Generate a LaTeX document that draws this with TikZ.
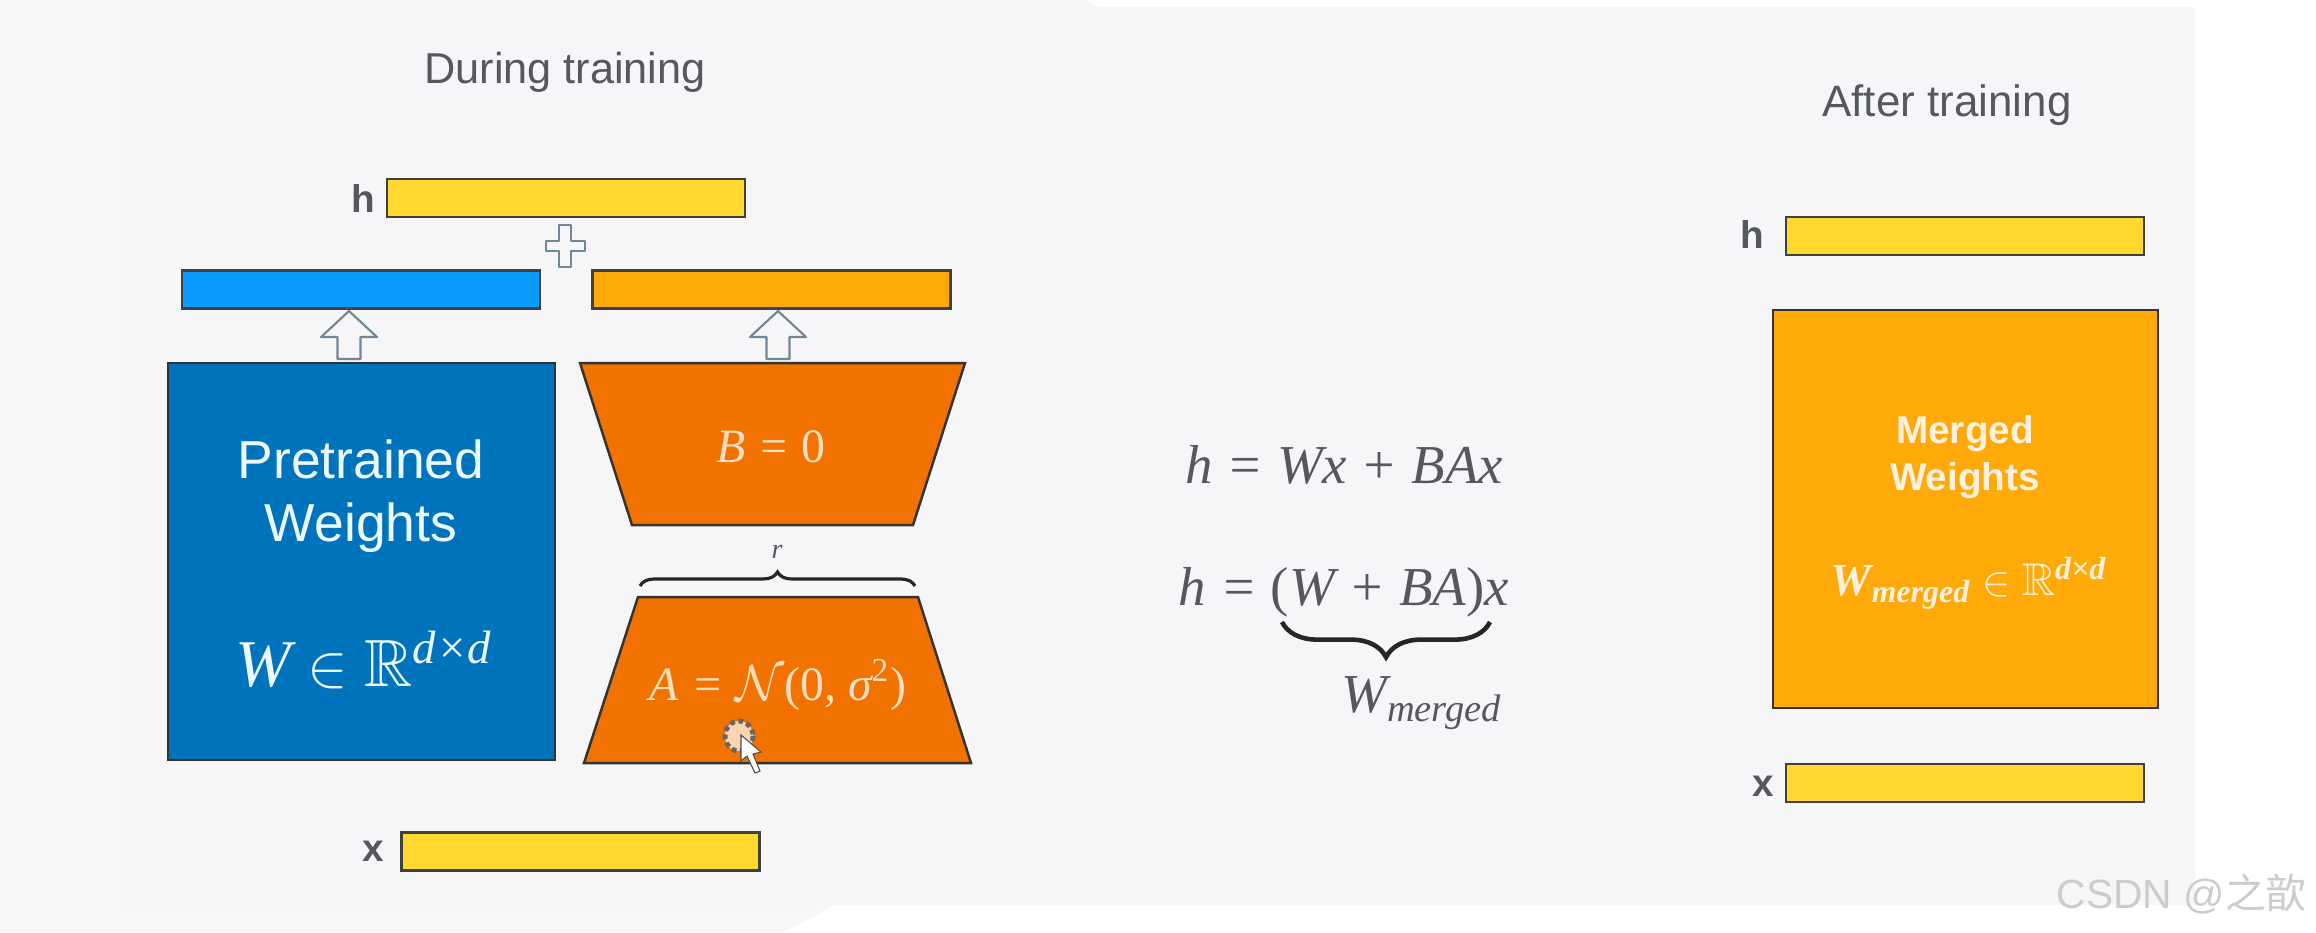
\documentclass[tikz,border=0pt]{standalone}
\usepackage{amssymb}
\usepackage{fontspec}
\setmainfont{Liberation Sans}
\newfontfamily\cjkfont{Noto Sans CJK SC}
\newfontfamily\termfont{Liberation Serif}
\usetikzlibrary{calc}
\usetikzlibrary{decorations.pathreplacing}

\definecolor{pagegray}{HTML}{F7F7F7}
\definecolor{panelgray}{HTML}{F6F6F8}
\definecolor{inkgray}{HTML}{55595F}
\definecolor{hyellow}{HTML}{FFD92E}
\definecolor{skyblue}{HTML}{0A9BFF}
\definecolor{amber}{HTML}{FFAA08}
\definecolor{deepblue}{HTML}{0073BD}
\definecolor{burnt}{HTML}{F27200}
\definecolor{edgegray}{HTML}{6F8797}
\newcommand{\ssz}[2]{\fontsize{#1}{#2}\selectfont}

\tikzset{
  bar/.style={draw=black!75,line width=0.7pt,inner sep=0pt,minimum width=3.58cm,minimum height=0.38cm},
  bigbox/.style={draw=black!80,line width=0.7pt,inner sep=0pt,minimum width=3.87cm,minimum height=3.97cm},
  trap/.style={draw=black!80,line width=0.7pt,fill=burnt},
  hollow/.style={draw=edgegray,line width=0.6pt,fill=panelgray,line join=round},
  title/.style={text=inkgray,font=\ssz{12.3}{14}},
  veclabel/.style={text=inkgray,font=\bfseries\ssz{11}{14}},
  formula/.style={text=inkgray,anchor=base,font=\termfont\itshape\ssz{15.6}{18}},
  brc/.style={draw=black!85,line width=0.9pt,decorate}
}

\begin{document}
\begin{tikzpicture}[x=0.01cm,y=-0.01cm]
\useasboundingbox (0,0) rectangle (2316,932);

% background
\fill[pagegray] (0,0)--(1086,0)--(1100,7)--(2195,7)--(2195,905)--(835,905)--(784,932)--(0,932)--cycle;
\fill[panelgray] (125,7) rectangle (2195,905);

% during training
\node[title] (during) at (565,72) {During training};
\node[bar,fill=hyellow] (hbar) at (566,198) {};
\node[bar,fill=skyblue] (bluebar) at (361,289.5) {};
\node[bar,fill=amber] (orangebar) at (771.5,289.5) {};
\node[bar,fill=hyellow] (xbar) at (580.5,851.5) {};
\node[veclabel,left=0pt] (hlab) at (388,198) {h};
\node[veclabel,left=0pt] (xlab) at (396,851) {x};
\draw[hollow] (559,225)--(571,225)--(571,241)--(585,241)--(585,251)--(571,251)--(571,267)--(559,267)--(559,251)--(546,251)--(546,241)--(559,241)--cycle;
\foreach \x in {349,778}
  \draw[hollow] (\x-11.5,359)--(\x-11.5,337)--(\x-28,337)--(\x,311)--(\x+28,337)--(\x+11.5,337)--(\x+11.5,359)--cycle;

\node[bigbox,fill=deepblue] (wbox) at (361.5,561.5) {};
\node[text=cyan!8,font=\ssz{15.2}{18}] (pre) at (361,459) {Pretrained};
\node[text=cyan!8,font=\ssz{15.2}{18}] (wei) at (361,528) {Weights};
\node[text=cyan!8,anchor=base,font=\termfont\itshape\ssz{19}{20}] (wdef) at (364,686) {W $\in$ $\mathbb{R}$\textsuperscript{d×d}};

\draw[trap] (580,363)--(965,363)--(913,525)--(632,525)--cycle;
\node[text=orange!25!white,font=\termfont\itshape\ssz{13.6}{16}] (bzero) at (771,447) {B = \textup{0}};
\coordinate (rl) at (640,586);
\coordinate (rr) at (915,586);
\draw[brc,decoration={brace,amplitude=4pt}] (rl)--(rr);
\node[text=inkgray,font=\termfont\itshape\ssz{8}{10}] (rlab) at (777,552) {r};
\draw[trap] (638,597)--(918,597)--(971,763)--(584,763)--cycle;
\node[text=orange!25!white,font=\termfont\itshape\ssz{13.6}{16}] (adef) at (778,685) {A = $\mathcal{N}$\textup{(0,} σ\textsuperscript{\textup{2}}\textup{)}};

% cursor
\draw[black!60,line width=1.4pt,densely dotted,fill=white!70!burnt] (739,736) ellipse (14 and 15);
\draw[fill=white,draw=black!70,line width=0.3pt] (741,735)--(741,761)--(747,756)--(755,773)--(760,771)--(753,754)--(761,752)--cycle;

% formula
\node[formula] (eqa) at (1344,483) {h = Wx + BAx};
\node[formula] (eqb) at (1344,605) {h = \textup{(}W + BA\textup{)}x};
\coordinate (ml) at (1490,622);
\coordinate (mr) at (1282,622);
\draw[brc,line width=1.3pt,decoration={brace,amplitude=10pt}] (ml)--(mr);
\node[formula] (wmerged) at (1422,712) {W\textsubscript{merged}};

% after training
\node[title,font=\ssz{12.5}{14}] (after) at (1947,105) {After training};
\node[bar,fill=hyellow] (hbarb) at (1965,236) {};
\node[bigbox,fill=amber,minimum width=3.85cm,minimum height=3.98cm] (mbox) at (1965.5,509) {};
\node[bar,fill=hyellow] (xbarb) at (1965,783) {};
\node[veclabel,left=0pt] (hlabb) at (1777,234) {h};
\node[veclabel,left=0pt] (xlabb) at (1786,786) {x};
\node[text=orange!12!white,font=\bfseries\ssz{11}{13}] (mtop) at (1965,434) {Merged};
\node[text=orange!12!white,font=\bfseries\ssz{11}{13}] (mbot) at (1965,481) {Weights};
\node[text=orange!12!white,anchor=base,font=\termfont\itshape\bfseries\ssz{13}{15}] (mdef) at (1969,595) {W\textsubscript{merged} $\in$ $\mathbb{R}$\textsuperscript{d×d}};

% watermark
\node[text=black!20,font=\ssz{11.6}{14},anchor=east] (mark) at (2319,894) {CSDN @{\cjkfont 之歆}};
\end{tikzpicture}
\end{document}
